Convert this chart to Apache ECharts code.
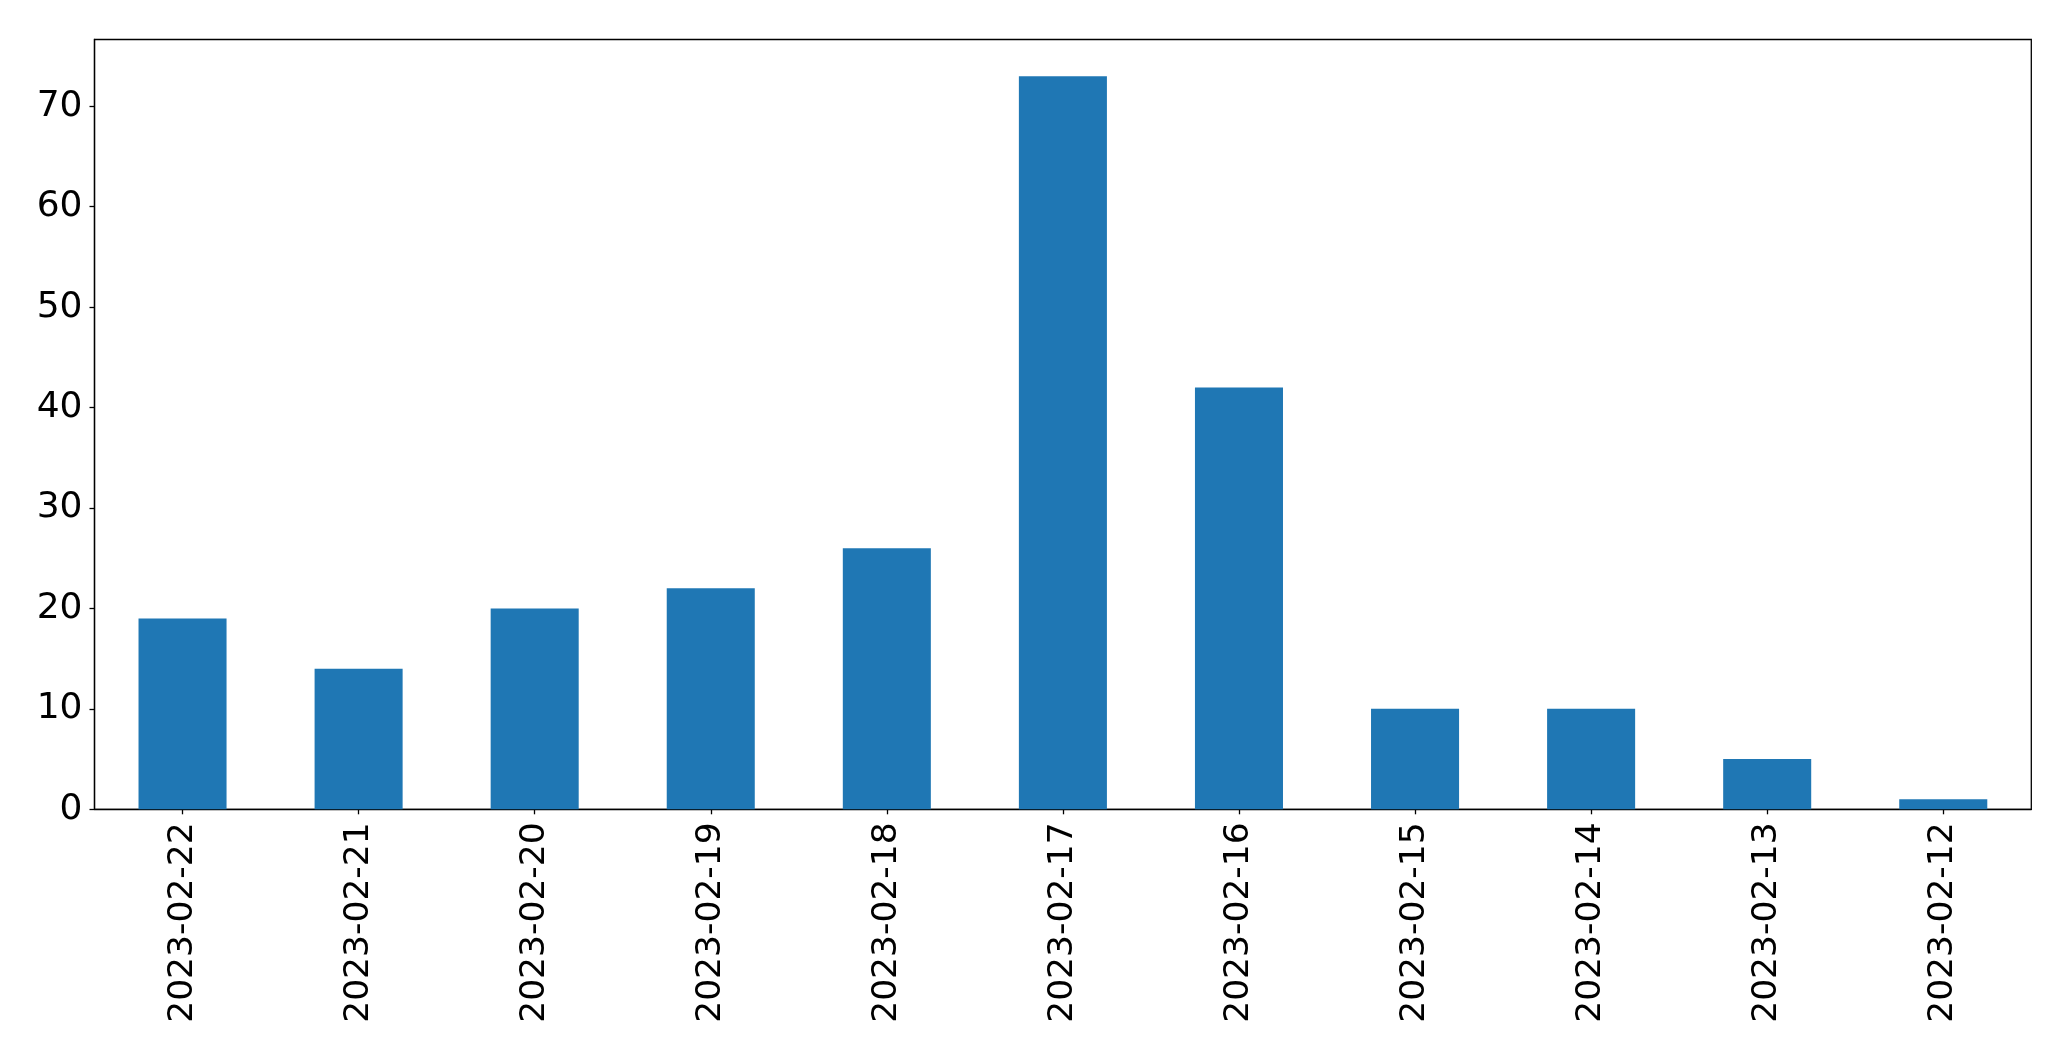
<!DOCTYPE html>
<html>
<head>
<meta charset="utf-8">
<script src="https://cdn.jsdelivr.net/npm/echarts@6/dist/echarts.min.js"></script>
<style>html,body{margin:0;padding:0;background:#fff;}#c{width:2071px;height:1061px;}</style>
</head>
<body>
<div id="c"></div>
<script>
const categories = ["2023-02-22","2023-02-21","2023-02-20","2023-02-19","2023-02-18","2023-02-17","2023-02-16","2023-02-15","2023-02-14","2023-02-13","2023-02-12"];
const values = [19,14,20,22,26,73,42,10,10,5,1];
const yTicks = [0,10,20,30,40,50,60,70];

const chart = echarts.init(document.getElementById('c'), null, {renderer:'canvas'});
const font = 'DejaVu Sans';
chart.setOption({
  animation: false,
  backgroundColor: '#fff',
  grid: {left: 94.5, right: 39.7, top: 39.5, bottom: 251.7, show: true, borderColor: '#000', borderWidth: 1.3, containLabel: false},
  xAxis: {
    type: 'category',
    data: categories,
    boundaryGap: true,
    axisLine: {show: true, lineStyle: {color: '#000', width: 1.3}},
    axisTick: {show: true, alignWithLabel: true, length: 5, inside: false, lineStyle: {color: '#000', width: 1.3}},
    axisLabel: {rotate: 90, fontFamily: font, fontSize: 34.5, color: '#000', margin: 13, interval: 0},
    splitLine: {show: false}
  },
  yAxis: {
    type: 'value',
    min: 0,
    max: 76.65,
    interval: 10,
    axisLine: {show: true, lineStyle: {color: '#000', width: 1.3}},
    axisTick: {show: true, length: 5, customValues: yTicks, lineStyle: {color: '#000', width: 1.3}},
    axisLabel: {fontFamily: font, fontSize: 36, color: '#000', margin: 12, customValues: yTicks},
    splitLine: {show: false}
  },
  series: [{
    type: 'bar',
    data: values,
    barWidth: '50%',
    itemStyle: {color: '#1f77b4'}
  }]
});
</script>
</body>
</html>
